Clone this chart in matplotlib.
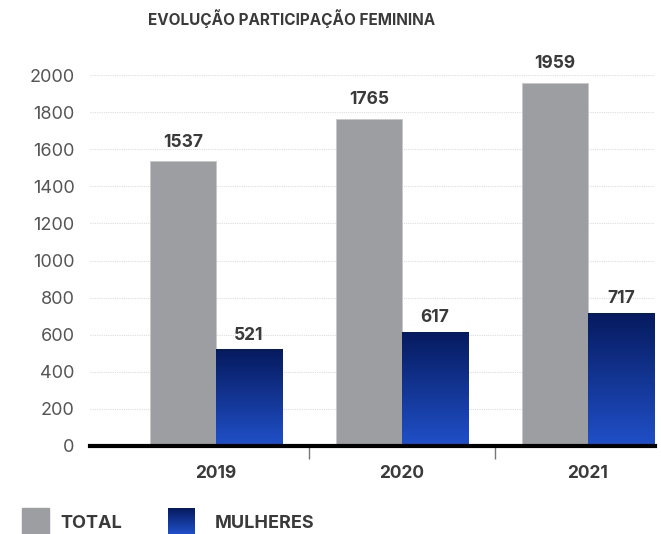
import matplotlib
matplotlib.use("Agg")
import matplotlib.pyplot as plt
import numpy as np
from matplotlib.patches import Rectangle
from matplotlib.colors import LinearSegmentedColormap

plt.rcParams['font.family'] = ['Inter', 'DejaVu Sans']

years = ["2019", "2020", "2021"]
total = [1537, 1765, 1959]
mulheres = [521, 617, 717]
yticks = [0, 200, 400, 600, 800, 1000, 1200, 1400, 1600, 1800, 2000]
title = "EVOLUÇÃO PARTICIPAÇÃO FEMININA"
legend_labels = ["TOTAL", "MULHERES"]

gray = "#9d9ea2"
navy_top = "#061a5e"
blue_bot = "#2050c8"
cmap = LinearSegmentedColormap.from_list("g", [blue_bot, navy_top])
text_dark = "#3a3a3a"

fig = plt.figure(figsize=(6.61, 5.34), dpi=100)
ax = fig.add_axes([90/661, 88/534, 565/661, 371/534])

x = np.arange(len(years))
w = 0.355
ax.bar(x - w/2, total, width=w, color=gray, edgecolor="#c8c8ca", linewidth=0.6, zorder=2)
blue_bars = ax.bar(x + w/2, mulheres, width=w, color="none", zorder=3)

grad = np.linspace(0, 1, 256).reshape(-1, 1)
for b in blue_bars:
    x0, y0 = b.get_x(), b.get_y()
    bw, bh = b.get_width(), b.get_height()
    im = ax.imshow(grad, cmap=cmap, origin="lower", aspect="auto",
                   extent=[x0, x0 + bw, y0, y0 + bh], zorder=3)
    im.set_clip_path(b)

for xi, v in zip(x - w/2, total):
    ax.text(xi, v + 55, f"{v}", ha="center", va="bottom", fontsize=12.5,
            fontweight="bold", color=text_dark, clip_on=False)
for xi, v in zip(x + w/2, mulheres):
    ax.text(xi, v + 30, f"{v}", ha="center", va="bottom", fontsize=12.5,
            fontweight="bold", color=text_dark, clip_on=False)

ax.set_xlim(-0.677, 2.36)
ax.set_ylim(0, 2000)
ax.set_yticks(yticks)
ax.set_yticklabels([str(t) for t in yticks], fontsize=13, color="#555555")
ax.tick_params(axis="y", length=0, pad=11)
ax.yaxis.grid(True, color="#dddddd", linestyle=(0, (1, 1)), linewidth=0.8, zorder=0)
ax.set_axisbelow(True)

ax.set_xticks(x)
ax.set_xticklabels(years, fontsize=12.5, fontweight="bold", color=text_dark)
ax.tick_params(axis="x", which="major", length=0, pad=14)
ax.set_xticks([0.5, 1.5], minor=True)
ax.tick_params(axis="x", which="minor", length=9, width=1, color="#777777", direction="out")

for s in ["top", "right", "left"]:
    ax.spines[s].set_visible(False)
ax.spines["bottom"].set_color("black")
ax.spines["bottom"].set_linewidth(3)
ax.spines["bottom"].set_zorder(5)

fig.text(292/661, 1 - 19/534, title, ha="center", va="center", fontsize=11,
         fontweight="bold", color=text_dark)

# legend
lax = fig.add_axes([0, 0, 1, 1], zorder=-1)
lax.axis("off")
lax.add_patch(Rectangle((22, 508), 27, 26, color=gray))
lax.imshow(grad, cmap=cmap, origin="lower", aspect="auto",
           extent=[168, 195, 534, 508])
lax.set_xlim(0, 661)
lax.set_ylim(534, 0)
fig.text(60/661, 1 - 524/534, legend_labels[0], ha="left", va="center", fontsize=13,
         fontweight="bold", color=text_dark)
fig.text(215/661, 1 - 524/534, legend_labels[1], ha="left", va="center", fontsize=13,
         fontweight="bold", color=text_dark)

fig.savefig("out.png", dpi=100)
